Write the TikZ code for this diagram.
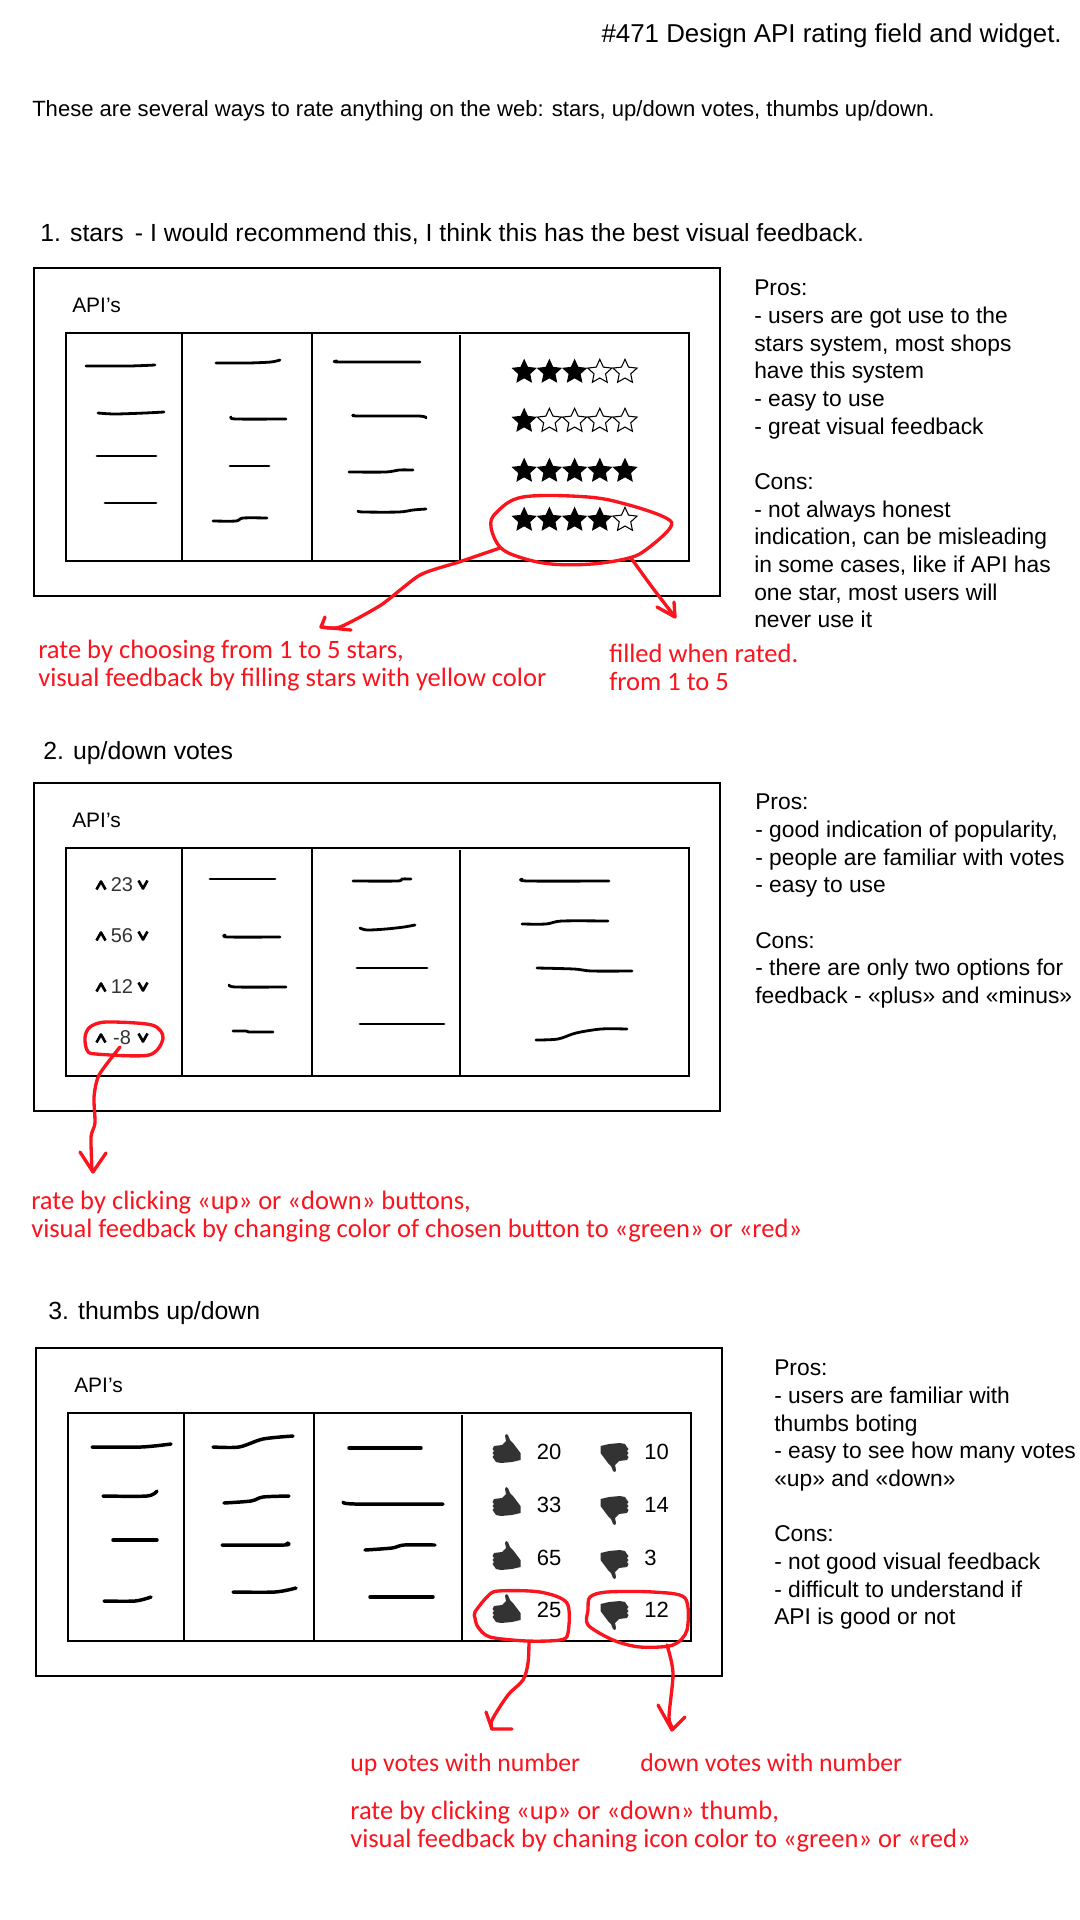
\documentclass[tikz,border=0pt]{standalone}
\usepackage{fontspec}
\setmainfont{Liberation Sans}
\newfontfamily\redfont{Carlito}
\usetikzlibrary{shapes.geometric}

\definecolor{penred}{RGB}{250,20,30}
\definecolor{icongrey}{RGB}{51,51,51}

\tikzset{
  box/.style={line width=1.4pt},
  divider/.style={line width=0.8pt},
  scrib/.style={line width=2.1pt, line cap=round, line join=round},
  fatscrib/.style={line width=2.6pt, line cap=round, line join=round},
  redpen/.style={penred, line width=2.5pt, line cap=round, line join=round},
  title/.style={anchor=base west, inner sep=0pt, font=\fontsize{18.6}{22}\selectfont},
  apilabel/.style={anchor=base west, inner sep=0pt, font=\fontsize{15.7}{18}\selectfont},
  notes/.style={anchor=north west, align=left, inner sep=0pt, font=\fontsize{17.1}{20.75}\selectfont},
  redtext/.style={anchor=north west, align=left, inner sep=0pt, text=penred, font=\redfont\fontsize{19.9}{21}\selectfont},
  votenum/.style={inner sep=0pt, text=icongrey, font=\fontsize{15}{17}\selectfont},
  thumbnum/.style={inner sep=0pt, font=\fontsize{16.5}{18}\selectfont},
  fullstar/.style={star, star points=5, star point ratio=2.1, minimum size=20pt, inner sep=0pt, fill=black},
  emptystar/.style={star, star points=5, star point ratio=2.1, minimum size=19pt, inner sep=0pt, draw=black, line width=0.8pt},
  thumbup/.pic={\fill[icongrey] (-13,-3) -- (-5,-4) -- (-1,-8) -- (-2,-13) -- (-1,-15) -- (1,-14) -- (3,-9) -- (6,-6) -- (13.5,4) -- (13.5,11) -- (5,13) -- (-6,14) -- (-11,13) -- (-13,10) -- (-14.5,8) -- (-13,6) -- (-14.5,4) -- (-13,2) -- (-14.5,0) -- cycle;},
  chevup/.pic={\draw[line width=2pt, line join=round] (-4.5,4.5) -- (0,-3.5) -- (4.5,4.5);}
}

% one panel: outer frame, table and its column lines
\newcommand{\apipanel}[3]{
  \begin{scope}[shift={(#1,#2)}]
    \draw [box] (34,268) rectangle (720,596);
    \draw [box] (66,333) rectangle (689,561);
    \draw [divider] (182,333) -- (182,561);
    \draw [divider] (312,333) -- (312,561);
    \draw [divider] (460,335) -- (460,561);
    \node [apilabel] (api#3) at (72,312) {API’s};
  \end{scope}
}

\begin{document}
\begin{tikzpicture}[x=0.75pt,y=-0.75pt]
  \useasboundingbox (0,0) rectangle (1080,1920);
  \fill [white] (0,0) rectangle (1080,1920);

  \node [title, anchor=base east, font=\fontsize{19.4}{22}\selectfont] (heading) at (1062,42) {\#471 Design API rating field and widget.};
  \node [title, font=\fontsize{16.55}{20}\selectfont] (intro) at (32,116) {These are several ways to rate anything on the web: stars, up/down votes, thumbs up/down.};

  % 1. stars
  \node [title] (starstitle) at (40,241) {1. stars\, - I would recommend this, I think this has the best visual feedback.};
  \apipanel{0}{0}{one}
  \node [notes] (starsnotes) at (754,280) {Pros:\\- users are got use to the\\stars system, most shops\\have this system\\- easy to use\\- great visual feedback\\[20.75pt]Cons:\\- not always honest\\indication, can be misleading\\in some cases, like if API has\\one star, most users will\\never use it};

  \draw [scrib] plot[smooth] coordinates {(86,366) (129,366) (155,365)};
  \draw [scrib] plot[smooth] coordinates {(98,413) (115,414) (145,413) (164,412)};
  \draw [scrib] (97,456) -- (156,456);
  \draw [scrib] (105,503) -- (156,503);
  \draw [scrib] plot[smooth] coordinates {(216,363) (248,363) (271,362) (280,360)};
  \draw [scrib] plot[smooth] coordinates {(231,417) (236,419) (286,419)};
  \draw [scrib] (230,466) -- (269,466);
  \draw [scrib] plot[smooth] coordinates {(213,521) (236,521) (243,518) (267,518)};
  \draw [scrib] plot[smooth] coordinates {(337,361) (340,362) (420,362)};
  \draw [scrib] plot[smooth] coordinates {(354,415) (358,416) (418,416) (426,418)};
  \draw [scrib] plot[smooth] coordinates {(349,472) (386,472) (399,470) (413,470)};
  \draw [scrib] plot[smooth] coordinates {(358,511) (363,512) (399,512) (413,510) (426,509)};

  \foreach \r/\y/\n in {a/372/3,b/421/1,c/471/5,d/520/4}
    \foreach \s in {1,...,5} {
      \pgfmathsetmacro{\px}{499+25.2*\s}
      \ifnum\s>\n
        \node [emptystar] (star\r\s) at (\px,\y) {};
      \else
        \node [fullstar] (star\r\s) at (\px,\y) {};
      \fi
    }

  \draw [redpen] plot[smooth cycle, tension=0.6] coordinates {(500,547) (491,527) (496,513) (523,497) (588,497) (629,505) (666,518) (670,528) (647,549) (629,558) (592,564) (551,564) (519,557)};
  \draw [redpen] plot[smooth, tension=0.4] coordinates {(500,548) (459,562) (420,575) (381,605) (340,627) (321,627)};
  \draw [redpen] (325,617) -- (321,627) -- (351,630);
  \draw [redpen] plot[smooth, tension=0.4] coordinates {(631,558) (652,587) (675,617)};
  \draw [redpen] (657,607) -- (675,617) -- (674,602);
  \node [redtext] (ratestars) at (38,640) {rate by choosing from 1 to 5 stars,\\visual feedback by filling stars with yellow color};
  \node [redtext] (filled) at (609,644) {filled when rated.\\from 1 to 5};

  % 2. votes
  \node [title] (votestitle) at (43,759) {2. up/down votes};
  \apipanel{0}{515}{two}
  \node [notes] (votesnotes) at (755,794) {Pros:\\- good indication of popularity,\\- people are familiar with votes\\- easy to use\\[20.75pt]Cons:\\- there are only two options for\\feedback - «plus» and «minus»};

  \foreach \n/\v/\y in {a/23/885,b/56/936,c/12/987,d/-8/1038} {
    \pic at (101,\y) {chevup};
    \node [votenum] (vote\n) at (122,\y) {\v};
    \pic [rotate=180] at (143,\y) {chevup};
  }

  \draw [scrib] (210,879) -- (275,879);
  \draw [scrib] plot[smooth] coordinates {(225,935) (228,937) (280,937)};
  \draw [scrib] plot[smooth] coordinates {(229,985) (236,987) (286,987)};
  \draw [scrib] plot[smooth] coordinates {(233,1031) (246,1031) (250,1032) (273,1032)};
  \draw [scrib] plot[smooth] coordinates {(353,881) (397,881) (402,879) (411,879)};
  \draw [scrib] plot[smooth] coordinates {(360,928) (367,930) (386,929) (404,927) (415,925)};
  \draw [scrib] (357,968) -- (427,968);
  \draw [scrib] (360,1024) -- (444,1024);
  \draw [scrib] plot[smooth] coordinates {(522,879) (528,881) (609,881)};
  \draw [scrib] plot[smooth] coordinates {(522,924) (546,924) (562,921) (608,921)};
  \draw [scrib] plot[smooth] coordinates {(537,968) (574,969) (592,971) (632,971)};
  \draw [scrib] plot[smooth] coordinates {(536,1040) (558,1039) (576,1033) (601,1029) (627,1029)};

  \draw [redpen] plot[smooth cycle, tension=0.5] coordinates {(87,1050) (85,1037) (90,1027) (106,1022) (152,1025) (163,1038) (149,1055) (96,1054)};
  \draw [redpen] plot[smooth, tension=0.4] coordinates {(120,1047) (99,1075) (94,1097) (95,1123) (91,1137) (92,1170)};
  \draw [redpen] (80,1152) -- (93,1172) -- (106,1153);
  \node [redtext] (ratevotes) at (31,1191) {rate by clicking «up» or «down» buttons,\\visual feedback by changing color of chosen button to «green» or «red»};

  % 3. thumbs
  \node [title] (thumbstitle) at (48,1319) {3. thumbs up/down};
  \apipanel{2}{1080}{three}
  \node [notes] (thumbsnotes) at (774,1360) {Pros:\\- users are familiar with\\thumbs boting\\- easy to see how many votes\\«up» and «down»\\[20.75pt]Cons:\\- not good visual feedback\\- difficult to understand if\\API is good or not};

  \draw [fatscrib] plot[smooth] coordinates {(92,1447) (141,1447) (171,1444)};
  \draw [fatscrib] plot[smooth] coordinates {(103,1496) (147,1496) (157,1491)};
  \draw [fatscrib] (113,1540) -- (157,1540);
  \draw [fatscrib] plot[smooth] coordinates {(104,1601) (135,1601) (151,1597)};
  \draw [fatscrib] plot[smooth] coordinates {(213,1447) (239,1447) (263,1439) (293,1436)};
  \draw [fatscrib] plot[smooth] coordinates {(224,1503) (251,1501) (263,1497) (289,1496)};
  \draw [fatscrib] plot[smooth] coordinates {(222,1545) (284,1545) (287,1543)};
  \draw [fatscrib] plot[smooth] coordinates {(233,1592) (275,1592) (296,1588)};
  \draw [fatscrib] (349,1448) -- (421,1448);
  \draw [fatscrib] plot[smooth] coordinates {(343,1502) (355,1504) (443,1504)};
  \draw [fatscrib] plot[smooth] coordinates {(365,1550) (392,1548) (404,1545) (435,1545)};
  \draw [fatscrib] (370,1597) -- (433,1597);

  \foreach \n/\up/\dn/\yu/\yd/\yt in {a/20/10/1449/1457/1452,b/33/14/1502/1510/1505,c/65/3/1556/1564/1558,d/25/12/1609/1615/1610} {
    \pic at (507,\yu) {thumbup};
    \node [thumbnum] (up\n) at (549,\yt) {\up};
    \pic [rotate=180] at (614,\yd) {thumbup};
    \node [thumbnum, anchor=west] (down\n) at (644,\yt) {\dn};
  }

  \draw [redpen] plot[smooth cycle, tension=0.5] coordinates {(475,1618) (475,1612) (487,1597) (498,1591) (540,1592) (567,1603) (568,1633) (560,1640) (527,1641) (490,1637) (478,1627)};
  \draw [redpen] plot[smooth cycle, tension=0.5] coordinates {(588,1610) (590,1597) (607,1592) (653,1592) (685,1598) (687,1630) (673,1645) (640,1647) (613,1640) (588,1625)};
  \draw [redpen] plot[smooth, tension=0.5] coordinates {(529,1642) (528,1663) (523,1680) (508,1695) (492,1720) (492,1729)};
  \draw [redpen] (486,1712) -- (492,1729) -- (512,1729);
  \draw [redpen] plot[smooth, tension=0.5] coordinates {(667,1645) (673,1673) (669,1717) (673,1728)};
  \draw [redpen] (658,1705) -- (672,1730) -- (685,1717);
  \node [redtext, font=\redfont\fontsize{19.3}{21}\selectfont] (upvotes) at (350,1753) {up votes with number};
  \node [redtext, font=\redfont\fontsize{19.3}{21}\selectfont] (downvotes) at (640,1753) {down votes with number};
  \node [redtext] (ratethumbs) at (350,1801) {rate by clicking «up» or «down» thumb,\\visual feedback by chaning icon color to «green» or «red»};
\end{tikzpicture}
\end{document}
